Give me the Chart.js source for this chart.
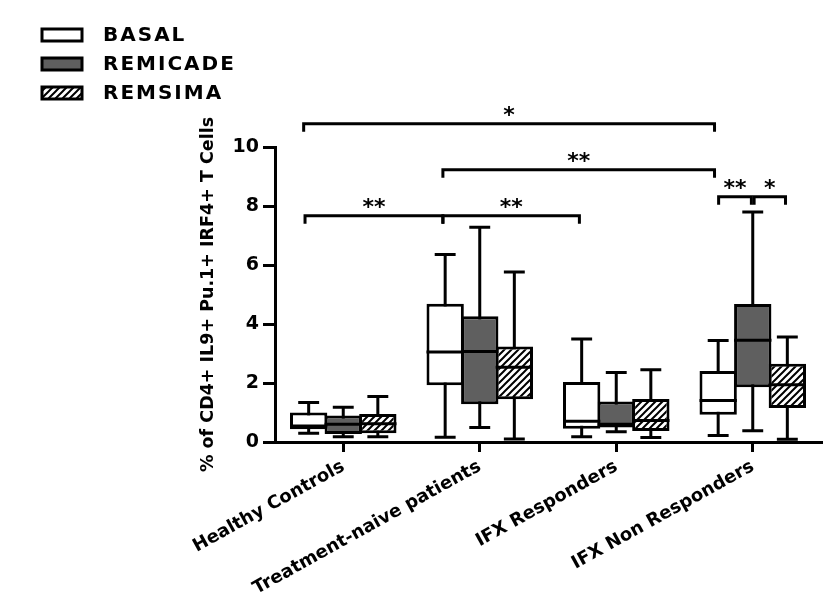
<!DOCTYPE html>
<html lang="en">
<head>
<meta charset="UTF-8">
<title>CD4+ IL9+ Pu.1+ IRF4+ T Cells</title>
<script src="https://cdn.jsdelivr.net/npm/chart.js"></script>
<style>
  html, body { margin: 0; padding: 0; background: #fff; }
  #wrap { width: 839px; height: 616px; }
</style>
</head>
<body>
<div id="wrap"><canvas id="boxChart" width="839" height="616"></canvas></div>
<script>
// groups on the x axis
const categories = ['Healthy Controls', 'Treatment-naive patients', 'IFX Responders', 'IFX Non Responders'];
const yTicks = [0, 2, 4, 6, 8, 10];

// box plot values (% of cells), one entry per group
const basalMin = [0.30, 0.16, 0.18, 0.22];
const basalQ1  = [0.43, 1.92, 0.45, 0.92];
const basalMed = [0.54, 3.05, 0.70, 1.41];
const basalQ3  = [1.00, 4.69, 2.03, 2.41];
const basalMax = [1.34, 6.36, 3.49, 3.44];

const remicadeMin = [0.18, 0.49, 0.35, 0.38];
const remicadeQ1  = [0.27, 1.28, 0.49, 1.86];
const remicadeMed = [0.60, 3.07, 0.60, 3.45];
const remicadeQ3  = [0.90, 4.26, 1.37, 4.68];
const remicadeMax = [1.18, 7.28, 2.36, 7.80];

const remsimaMin = [0.18, 0.10, 0.15, 0.09];
const remsimaQ1  = [0.30, 1.45, 0.37, 1.15];
const remsimaMed = [0.62, 2.53, 0.73, 1.94];
const remsimaQ3  = [0.95, 3.24, 1.46, 2.65];
const remsimaMax = [1.54, 5.76, 2.45, 3.56];

// significance brackets: ends in category units, height in axis units
const bracketFrom  = [-0.29, 0.73, -0.28, 0.73, 2.75, 3.01];
const bracketTo    = [ 2.72, 2.72,  0.73, 1.73, 2.99, 3.24];
const bracketY     = [10.79, 9.23,  7.67, 7.67, 8.31, 8.31];
const bracketLabel = ['*', '**', '**', '**', '**', '*'];

const FONT = "'DejaVu Sans', 'Liberation Sans', Arial, sans-serif";

function makeHatch() {
    const s = 7;
    const c = document.createElement('canvas');
    c.width = s; c.height = s;
    const g = c.getContext('2d');
    g.fillStyle = '#fff';
    g.fillRect(0, 0, s, s);
    g.strokeStyle = '#000';
    g.lineWidth = 2;
    g.beginPath();
    g.moveTo(0, s); g.lineTo(s, 0);
    g.moveTo(-1, 1); g.lineTo(1, -1);
    g.moveTo(s - 1, s + 1); g.lineTo(s + 1, s - 1);
    g.stroke();
    return g.createPattern(c, 'repeat');
}

function boxRange(q1, q3) {
    return q1.map((v, i) => [v, q3[i]]);
}

const hatch = makeHatch();

// whiskers behind the boxes, medians on top
const boxPlotPlugin = {
    id: 'boxPlot',
    beforeDatasetsDraw(chart) {
        const ctx = chart.ctx;
        const y = chart.scales.y;
        chart.data.datasets.forEach((ds, di) => {
            chart.getDatasetMeta(di).data.forEach((bar, i) => {
                const half = bar.width * 0.28;
                const top = y.getPixelForValue(ds.whiskerMax[i]);
                const bot = y.getPixelForValue(ds.whiskerMin[i]);
                ctx.save();
                ctx.strokeStyle = '#000';
                ctx.lineWidth = 3;
                ctx.beginPath();
                ctx.moveTo(bar.x, top); ctx.lineTo(bar.x, bot);
                ctx.moveTo(bar.x - half, top); ctx.lineTo(bar.x + half, top);
                ctx.moveTo(bar.x - half, bot); ctx.lineTo(bar.x + half, bot);
                ctx.stroke();
                ctx.restore();
            });
        });
    },
    afterDatasetsDraw(chart) {
        const ctx = chart.ctx;
        const y = chart.scales.y;
        chart.data.datasets.forEach((ds, di) => {
            chart.getDatasetMeta(di).data.forEach((bar, i) => {
                const m = y.getPixelForValue(ds.median[i]);
                ctx.save();
                ctx.strokeStyle = '#000';
                ctx.lineWidth = 3;
                ctx.beginPath();
                ctx.moveTo(bar.x - bar.width / 2, m);
                ctx.lineTo(bar.x + bar.width / 2, m);
                ctx.stroke();
                ctx.restore();
            });
        });
    }
};

// brackets with stars, and the legend in the top left corner
const annotationPlugin = {
    id: 'annotations',
    afterDraw(chart) {
        const ctx = chart.ctx;
        const x = chart.scales.x;
        const y = chart.scales.y;
        ctx.save();
        ctx.strokeStyle = '#000';
        ctx.fillStyle = '#000';
        ctx.lineWidth = 3;
        bracketLabel.forEach((lab, i) => {
            const x0 = x.getPixelForValue(bracketFrom[i]);
            const x1 = x.getPixelForValue(bracketTo[i]);
            const yy = y.getPixelForValue(bracketY[i]);
            ctx.beginPath();
            ctx.moveTo(x0, yy + 8);
            ctx.lineTo(x0, yy);
            ctx.lineTo(x1, yy);
            ctx.lineTo(x1, yy + 8);
            ctx.stroke();
            ctx.font = 'bold 22px ' + FONT;
            ctx.textAlign = 'center';
            ctx.textBaseline = 'alphabetic';
            ctx.fillText(lab, (x0 + x1) / 2, yy - 2);
        });

        chart.data.datasets.forEach((ds, i) => {
            const cy = 35 + i * 29;
            ctx.fillStyle = ds.backgroundColor;
            ctx.fillRect(42, cy - 6, 40, 12);
            ctx.strokeRect(42, cy - 6, 40, 12);
            ctx.fillStyle = '#000';
            ctx.font = 'bold 20px ' + FONT;
            ctx.letterSpacing = '2px';
            ctx.textAlign = 'left';
            ctx.textBaseline = 'middle';
            ctx.fillText(ds.label, 103, cy + 1);
            ctx.letterSpacing = '0px';
        });
        ctx.restore();
    }
};

const chart = new Chart(document.getElementById('boxChart'), {
    type: 'bar',
    data: {
        labels: categories,
        datasets: [{
            label: 'BASAL',
            data: boxRange(basalQ1, basalQ3),
            whiskerMin: basalMin, whiskerMax: basalMax, median: basalMed,
            backgroundColor: '#ffffff'
        }, {
            label: 'REMICADE',
            data: boxRange(remicadeQ1, remicadeQ3),
            whiskerMin: remicadeMin, whiskerMax: remicadeMax, median: remicadeMed,
            backgroundColor: '#5f5f5f'
        }, {
            label: 'REMSIMA',
            data: boxRange(remsimaQ1, remsimaQ3),
            whiskerMin: remsimaMin, whiskerMax: remsimaMax, median: remsimaMed,
            backgroundColor: hatch
        }]
    },
    options: {
        responsive: false,
        animation: false,
        events: [],
        layout: { padding: { left: 198, top: 147, right: 18, bottom: 0 } },
        datasets: {
            bar: {
                borderColor: '#000',
                borderWidth: 3,
                borderSkipped: false,
                categoryPercentage: 0.76,
                barPercentage: 1.08
            }
        },
        plugins: {
            legend: { display: false },
            tooltip: { enabled: false }
        },
        scales: {
            x: {
                afterFit: s => { s.height = 174; },
                grid: { display: true, drawOnChartArea: false, drawTicks: true, tickLength: 10, color: '#000', lineWidth: 3, offset: false },
                border: { display: true, color: '#000', width: 3 },
                ticks: {
                    color: '#000',
                    font: { family: FONT, size: 18, weight: 'bold' },
                    minRotation: 29,
                    maxRotation: 29,
                    autoSkip: false,
                    padding: 4
                }
            },
            y: {
                min: 0,
                max: 10,
                afterFit: s => { s.width = 77; },
                afterBuildTicks: s => { s.ticks = yTicks.map(v => ({ value: v })); },
                grid: { display: true, drawOnChartArea: false, drawTicks: true, tickLength: 12, color: '#000', lineWidth: 3 },
                border: { display: true, color: '#000', width: 3 },
                ticks: {
                    color: '#000',
                    font: { family: FONT, size: 19, weight: 'bold' },
                    padding: 4
                },
                title: {
                    display: true,
                    text: '% of CD4+ IL9+ Pu.1+ IRF4+ T Cells',
                    color: '#000',
                    font: { family: FONT, size: 17.5, weight: 'bold' },
                    padding: 0
                }
            }
        }
    },
    plugins: [boxPlotPlugin, annotationPlugin]
});
</script>
</body>
</html>
